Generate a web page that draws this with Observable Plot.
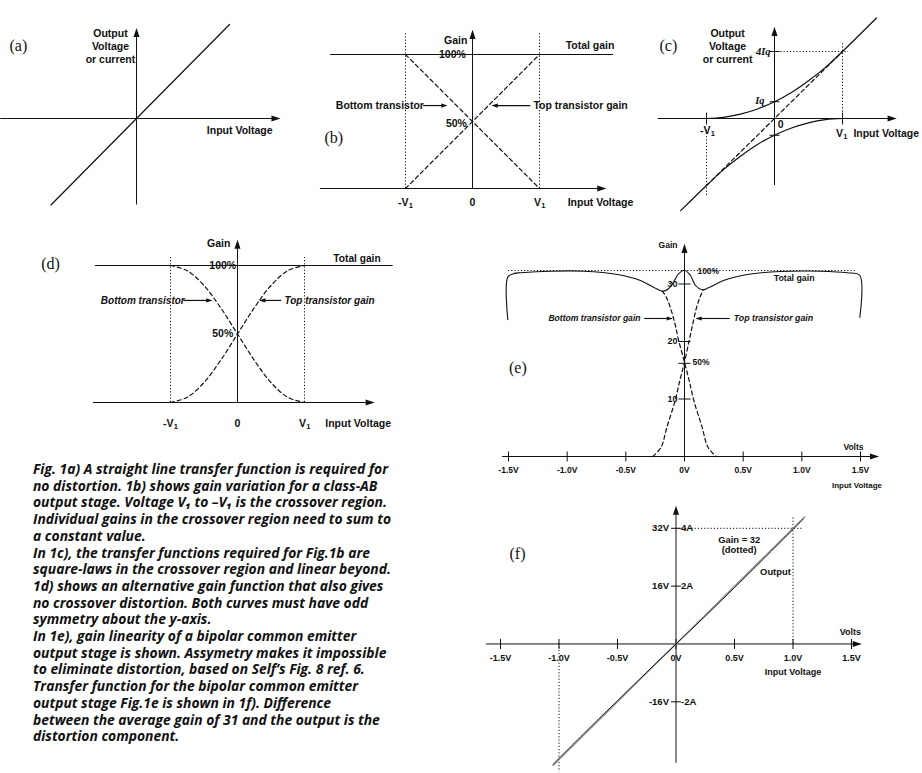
<!DOCTYPE html>
<html>
<head>
<meta charset="utf-8">
<script src="https://cdn.jsdelivr.net/npm/d3@7"></script>
<script src="https://cdn.jsdelivr.net/npm/@observablehq/plot@0.6"></script>
<style>
  html, body { margin: 0; padding: 0; background: #fff; }
  #page { position: relative; width: 922px; height: 773px; overflow: hidden; background: #fff; }
  #page svg { position: absolute; left: 0; top: 0; }
  #caption { position: absolute; left: 33px; top: 461px; font-family: "Open Sans", Lato, sans-serif;
    font-weight: 700; font-style: italic; font-size: 13.5px; line-height: 16.7px; color: #111; white-space: pre; }
</style>
</head>
<body>
<div id="page"><div id="caption"></div></div>
<script>
// ---------------- data ----------------
// (a) ideal transfer function
const aTransfer = [[-0.92, -0.92], [1.0, 1.0]];
// (b) linear gain sharing (V1 = 1, gain in %)
const bTotal = [[-2.12, 100], [2.09, 100]];
const bBottom = [[-1, 100], [1, 0]];
const bTop = [[-1, 0], [1, 100]];
// (c) square-law transfer (V1 = 1, output in Iq)
const cTop = [[-1, 0], [-0.75, 0.07], [-0.5, 0.26], [-0.25, 0.57], [0, 1.0], [0.25, 1.55], [0.5, 2.25], [0.75, 3.05], [1, 4], [1.5, 6]];
const cBottom = [[-1.38, -5.5], [-1, -4], [-0.75, -3.05], [-0.5, -2.25], [-0.25, -1.55], [0, -1], [0.25, -0.57], [0.5, -0.26], [0.75, -0.07], [1, 0]];
const cSum = [[-1, -4], [1, 4]];
// (d) smooth gain sharing
const dTotal = [[-2.12, 100], [2.31, 100]];
const dTop = [[-1, 0], [-0.75, 3.8], [-0.5, 14.6], [-0.25, 30.9], [0, 50], [0.25, 69.1], [0.5, 85.4], [0.75, 96.2], [1, 100]];
const dBottom = [[-1, 100], [-0.75, 96.2], [-0.5, 85.4], [-0.25, 69.1], [0, 50], [0.25, 30.9], [0.5, 14.6], [0.75, 3.8], [1, 0]];
// (e) bipolar common-emitter gain (volts, gain)
const eTotal = [[-1.506, 23.8], [-1.506, 31.2], [-1.45, 31.85], [-1.4, 31.95], [-1.14, 32.23], [-0.86, 32.23], [-0.57, 31.65], [-0.375, 30.6], [-0.264, 29.44], [-0.188, 28.75], [-0.136, 29.17], [-0.094, 30.31], [-0.051, 31.77], [0, 32.4], [0.051, 31.48], [0.094, 29.74], [0.151, 28.99], [0.205, 29.34], [0.332, 30.6], [0.535, 31.65], [0.818, 32.17], [1.159, 32.23], [1.387, 31.95], [1.494, 31.48], [1.494, 24.2]];
const eBottom = [[-0.19, 28.8], [-0.15, 27.5], [-0.11, 25.2], [-0.08, 23.0], [-0.05, 20.2], [0, 16.4], [0.04, 13.2], [0.08, 9.7], [0.15, 5.1], [0.2, 1.6], [0.27, 0]];
const eTop = [[-0.27, 0], [-0.2, 1.6], [-0.15, 5.1], [-0.08, 9.7], [-0.04, 13.2], [0, 16.4], [0.04, 20.2], [0.07, 23.0], [0.1, 25.7], [0.13, 27.6], [0.16, 29.0]];
const eGainRef = 32.35;
const voltTicks = [-1.5, -1, -0.5, 0, 0.5, 1, 1.5];
const voltLabels = ["-1.5V", "-1.0V", "-0.5V", "0V", "0.5V", "1.0V", "1.5V"];
const eGainTicks = [10, 20, 30];
// (f) transfer function (volts in, volts out)
const fGain32 = [[-1.05, -33.6], [1.1, 35.2]];
const fOutput = [[-1.05, -33.3], [-0.75, -23.6], [-0.5, -15.7], [-0.25, -7.8], [0, 0], [0.25, 7.7], [0.5, 15.6], [0.75, 23.6], [1.0, 31.7], [1.09, 34.6]];
const fYTicks = [32, 16, -16];
const fVLabels = ["32V", "16V", "-16V"];
const fALabels = ["4A", "2A", "-2A"];
// caption
const captionLines = [
  "Fig. 1a) A straight line transfer function is required for",
  "no distortion. 1b) shows gain variation for a class-AB",
  "output stage. Voltage V\u2081 to \u2013V\u2081 is the crossover region.",
  "Individual gains in the crossover region need to sum to",
  "a constant value.",
  "In 1c), the transfer functions required for Fig.1b are",
  "square-laws in the crossover region and linear beyond.",
  "1d) shows an alternative gain function that also gives",
  "no crossover distortion. Both curves must have odd",
  "symmetry about the y-axis.",
  "In 1e), gain linearity of a bipolar common emitter",
  "output stage is shown. Assymetry makes it impossible",
  "to eliminate distortion, based on Self\u2019s Fig. 8 ref. 6.",
  "Transfer function for the bipolar common emitter",
  "output stage Fig.1e is shown in 1f). Difference",
  "between the average gain of 31 and the output is the",
  "distortion component."
];

// ---------------- helpers ----------------
const W = 922, H = 773;
const SANS = "Liberation Sans, Arial, Helvetica, sans-serif";
const SERIF = "Liberation Serif, Times New Roman, serif";
const INK = "#111";
const rad = (size) => Math.sqrt(size / Math.PI);
const sym = {
  right: {draw(c, s) { const r = rad(s); c.moveTo(1.2 * r, 0); c.lineTo(-1.2 * r, -0.8 * r); c.lineTo(-1.2 * r, 0.8 * r); c.closePath(); }},
  left: {draw(c, s) { const r = rad(s); c.moveTo(-1.2 * r, 0); c.lineTo(1.2 * r, -0.8 * r); c.lineTo(1.2 * r, 0.8 * r); c.closePath(); }},
  up: {draw(c, s) { const r = rad(s); c.moveTo(0, -1.2 * r); c.lineTo(-0.8 * r, 1.2 * r); c.lineTo(0.8 * r, 1.2 * r); c.closePath(); }},
  vtick: {draw(c, s) { const r = rad(s); c.moveTo(0, -r); c.lineTo(0, r); }},
  htick: {draw(c, s) { const r = rad(s); c.moveTo(-r, 0); c.lineTo(r, 0); }}
};
const tri = (x, y, dir, r = 3.8) => Plot.dot([0], {x, y, symbol: sym[dir], r, fill: INK, stroke: "none"});
const ticks = (data, o) => Plot.dot(data, {stroke: INK, strokeWidth: 1, fill: "none", ...o});
const L = (data, o = {}) => Plot.line(data, {x: d => d[0], y: d => d[1], stroke: INK, strokeWidth: 1.2, ...o});
const T = (x, y, text, o = {}) => Plot.text([text], {x, y, text: d => d, fontFamily: SANS, fontWeight: "bold", fontSize: 10.5, fill: INK, ...o});
const TL = (x, y, text, o = {}) => T(x, y, text, {fontFamily: SERIF, fontWeight: "normal", fontSize: 16, ...o});
// "V" with subscript 1, centred on x
const V1 = (x, y, minus, o = {}) => [
  T(x, y, minus ? "-V" : "V", {textAnchor: "end", dx: minus ? 3 : 1.5, ...o}),
  T(x, y, "1", {textAnchor: "start", dx: minus ? 3.3 : 1.8, dy: 3, fontSize: 7.5, ...o})
];
const hx = (y, x1, x2, o = {}) => Plot.ruleY([y], {x1, x2, stroke: INK, strokeWidth: 1, ...o});
const vy = (x, y1, y2, o = {}) => Plot.ruleX([x], {y1, y2, stroke: INK, strokeWidth: 1, ...o});
const DOT = {strokeDasharray: "1.2,2", strokeWidth: 1};
const DASH = {strokeDasharray: "4,3", strokeWidth: 1.2};

function panel(xd, xr, yd, yr, marks) {
  return Plot.plot({
    width: W, height: H, margin: 0,
    x: {domain: xd, range: xr, axis: null},
    y: {domain: yd, range: yr, axis: null},
    style: {background: "transparent", overflow: "visible"},
    marks
  });
}

const page = document.getElementById("page");

// (a)
page.append(panel([-1, 1], [43, 229], [-1, 1], [212, 24], [
  hx(0, -1.46, 1.48), tri(1.5, 0, "right"),
  vy(0, -0.92, 0.9), tri(0, 0.915, "up"),
  L(aTransfer),
  TL(-1.27, 0.777, "(a)"),
  T(-0.28, 0.777, "Output\nVoltage\nor current", {lineHeight: 1.25}),
  T(1.11, -0.128, "Input Voltage")
]));

// (b)
page.append(panel([-1, 1], [405, 539], [0, 100], [188, 54], [
  hx(0, -2.27, 1.9), tri(1.93, 0, "right"),
  vy(0, 0, 112), tri(0, 115, "up"),
  L(bTotal),
  vy(-1, 0, 115.7, DOT), vy(1, 0, 115.7, DOT),
  L(bBottom, DASH), L(bTop, DASH),
  TL(-2.07, 38, "(b)"),
  T(-0.25, 110.4, "Gain"),
  T(-0.30, 100, "100%"),
  T(-0.24, 48.5, "50%"),
  T(1.39, 106.7, "Total gain", {textAnchor: "start"}),
  T(-2.04, 61.9, "Bottom transistor", {textAnchor: "start"}),
  hx(61.9, -0.73, -0.42, {strokeWidth: 1.2}), tri(-0.42, 61.9, "right", 2.6),
  T(0.91, 61.9, "Top transistor gain", {textAnchor: "start"}),
  hx(61.9, 0.33, 0.87, {strokeWidth: 1.2}), tri(0.33, 61.9, "left", 2.6),
  ...V1(-1, -10.4, true), T(0, -10.4, "0"), ...V1(1, -10.4, false),
  T(1.42, -10.4, "Input Voltage", {textAnchor: "start"})
]));

// (c)
page.append(panel([-1, 1], [706, 842], [0, 4], [118, 51], [
  hx(0, -1.71, 1.7), tri(1.73, 0, "right"),
  vy(0, -4, 5.0), tri(0, 5.2, "up"),
  hx(4, 0, 1.09, DOT), vy(1, 0, 4.5, DOT), vy(-1, -0.7, -4.7, DOT),
  ticks([-1, 1], {x: d => d, y: 0, symbol: sym.vtick, r: 6}),
  ticks([1, -1, 4], {x: 0, y: d => d, symbol: sym.htick, r: 5}),
  L(cTop, {curve: "catmull-rom"}), L(cBottom, {curve: "catmull-rom"}),
  L(cSum, DASH),
  TL(-1.56, 4.36, "(c)"),
  T(-0.69, 4.36, "Output\nVoltage\nor current", {lineHeight: 1.25}),
  T(0, 4, "4Iq", {textAnchor: "end", dx: -4, fontFamily: SERIF, fontStyle: "italic", fontSize: 10.5}),
  T(0, 1.07, "Iq", {textAnchor: "end", dx: -10, fontFamily: SERIF, fontStyle: "italic", fontSize: 10.5}),
  ...V1(-0.985, -0.72, true), T(0.09, -0.36, "0"), ...V1(0.985, -0.9, false),
  T(1.16, -0.9, "Input Voltage", {textAnchor: "start"})
]));

// (d)
const ITAL = {fontStyle: "italic", fontSize: 10, textAnchor: "start"};
page.append(panel([-1, 1], [170, 304], [0, 100], [402, 265], [
  hx(0, -2.15, 1.95), tri(1.98, 0, "right"),
  vy(0, 0, 113), tri(0, 115.5, "up"),
  L(dTotal),
  vy(-1, 0, 105.8, DOT), vy(1, 0, 105.8, DOT),
  L(dBottom, {...DASH, curve: "catmull-rom"}), L(dTop, {...DASH, curve: "catmull-rom"}),
  TL(-2.79, 101.5, "(d)"),
  T(-0.28, 116, "Gain"),
  T(-0.22, 100, "100%"),
  T(-0.22, 50.4, "50%"),
  T(1.43, 105.1, "Total gain", {textAnchor: "start", fontSize: 10.2}),
  T(-2.04, 74.5, "Bottom transistor", ITAL),
  hx(74.5, -0.8, -0.42, {strokeWidth: 1.2}), tri(-0.42, 74.5, "right", 2.6),
  T(0.70, 74.5, "Top transistor gain", ITAL),
  hx(74.5, 0.37, 0.66, {strokeWidth: 1.2}), tri(0.37, 74.5, "left", 2.6),
  ...V1(-1, -15.3, true), T(0, -15.3, "0"), ...V1(1, -15.3, false),
  T(1.31, -15.3, "Input Voltage", {textAnchor: "start"})
]));

// (e)
const SM = {fontSize: 8.5};
page.append(panel([-1.5, 1.5], [508, 860], [0, 30], [456, 283.5], [
  hx(0, -1.55, 1.6), tri(1.62, 0, "right"),
  vy(0, 0, 36), tri(0, 36.2, "up"),
  ticks(voltTicks, {x: d => d, y: 0, symbol: sym.vtick, r: 5}),
  ticks([...eGainTicks, 16.2], {x: 0, y: d => d, symbol: sym.htick, r: 6}),
  hx(eGainRef, -1.5, 1.46, DOT),
  L(eTotal, {curve: "catmull-rom", strokeWidth: 1.1}),
  L(eBottom, {...DASH, curve: "catmull-rom"}), L(eTop, {...DASH, curve: "catmull-rom"}),
  TL(-1.42, 15.5, "(e)"),
  T(0, 36.7, "Gain", {...SM, textAnchor: "end", dx: -7}),
  T(0.11, 32.2, "100%", {...SM, textAnchor: "start"}),
  T(0.76, 31, "Total gain", {fontSize: 8.8, textAnchor: "start"}),
  Plot.text(eGainTicks, {x: 0, y: d => d, text: d => String(d), dx: -7, textAnchor: "end", fontFamily: SANS, fontWeight: "bold", fontSize: 9, fill: INK}),
  T(0, 16.35, "50%", {...SM, textAnchor: "start", dx: 8}),
  T(-1.16, 24.0, "Bottom transistor gain", {fontStyle: "italic", fontSize: 8.6, textAnchor: "start"}),
  hx(24.0, -0.34, -0.125, {strokeWidth: 1.1}), tri(-0.125, 24.0, "right", 2.6),
  T(0.42, 24.0, "Top transistor gain", {fontStyle: "italic", fontSize: 8.8, textAnchor: "start"}),
  hx(24.0, 0.12, 0.39, {strokeWidth: 1.1}), tri(0.12, 24.0, "left", 2.6),
  Plot.text(voltTicks, {x: d => d, y: -2.43, text: (d, i) => voltLabels[i], fontFamily: SANS, fontWeight: "bold", fontSize: 8.5, fill: INK}),
  T(1.44, 1.57, "Volts", SM),
  T(1.47, -5.0, "Input Voltage", {fontSize: 8})
]));

// (f)
page.append(panel([-1.5, 1.5], [500, 851], [-16, 32], [701.3, 527.8], [
  hx(0, -1.62, 1.52), tri(1.55, 0, "right"),
  vy(0, -33, 36.3), tri(0, 37, "up"),
  ticks(voltTicks, {x: d => d, y: 0, symbol: sym.vtick, r: 5}),
  ticks(fYTicks, {x: 0, y: d => d, symbol: sym.htick, r: 5}),
  hx(32, 0, 1.09, DOT), vy(1, 0, 34.9, DOT), vy(-1, 0, -35.5, DOT),
  L(fGain32, {stroke: "#9a9a9a", strokeWidth: 1.4}),
  L(fOutput, {curve: "catmull-rom", strokeWidth: 1}),
  TL(-1.355, 25.0, "(f)"),
  Plot.text(voltTicks, {x: d => d, y: -4.0, text: (d, i) => voltLabels[i], fontFamily: SANS, fontWeight: "bold", fontSize: 9, fill: INK}),
  Plot.text(fYTicks, {x: 0, y: d => d, text: (d, i) => fVLabels[i], dx: -7, textAnchor: "end", fontFamily: SANS, fontWeight: "bold", fontSize: 9.5, fill: INK}),
  Plot.text(fYTicks, {x: 0, y: d => d, text: (d, i) => fALabels[i], dx: 5, textAnchor: "start", fontFamily: SANS, fontWeight: "bold", fontSize: 9.5, fill: INK}),
  T(1.49, 3.2, "Volts", {fontSize: 9}),
  T(1.0, -7.9, "Input Voltage", {fontSize: 9}),
  T(0.54, 28.9, "Gain = 32", {fontSize: 9.4}),
  T(0.54, 25.9, "(dotted)", {fontSize: 9.4}),
  T(0.85, 19.8, "Output", {fontSize: 9.4})
]));

// caption: size the font so the first line spans the same width as in the original
const cap = document.getElementById("caption");
cap.textContent = captionLines.join("\n");
{
  const ctx = document.createElement("canvas").getContext("2d");
  ctx.font = 'italic 700 100px "Open Sans", Lato, sans-serif';
  const w = ctx.measureText(captionLines[0]).width;
  if (w > 0) cap.style.fontSize = (100 * 355 / w).toFixed(2) + "px";
}
</script>
</body>
</html>
